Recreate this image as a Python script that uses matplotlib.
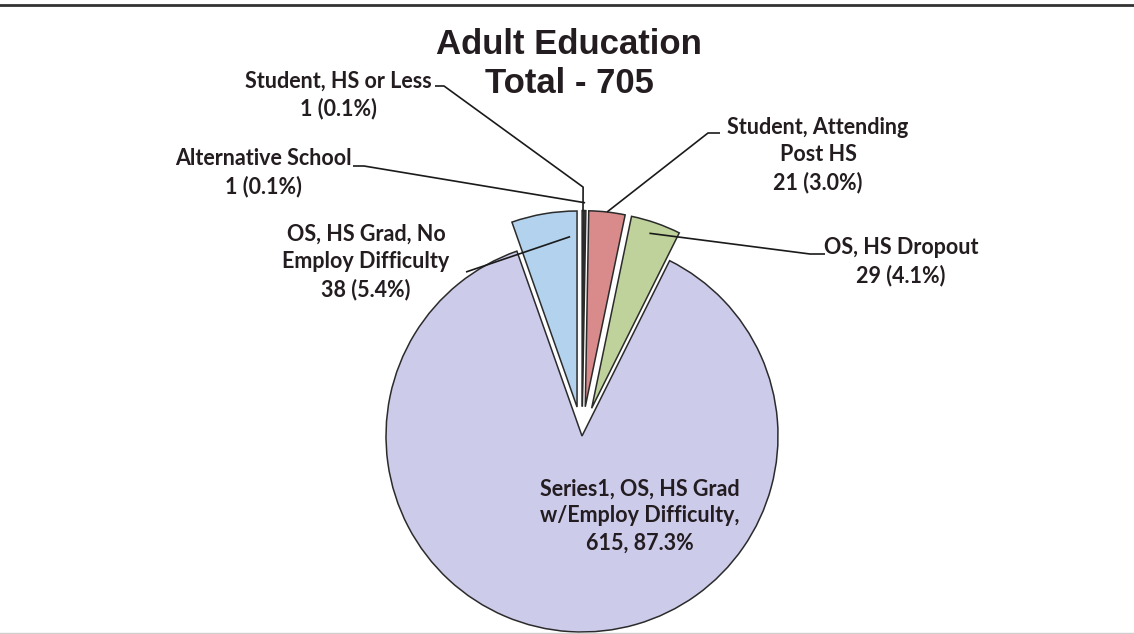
import numpy as np
import matplotlib.pyplot as plt

# data
categories = ['Student, HS or Less', 'Alternative School', 'Student, Attending\nPost HS',
              'OS, HS Dropout', 'Series1, OS, HS Grad\nw/Employ Difficulty,',
              'OS, HS Grad, No\nEmploy Difficulty']
counts = [1, 1, 21, 29, 615, 38]
pct_labels = ['0.1%', '0.1%', '3.0%', '4.1%', '87.3%', '5.4%']
total = 705

colors = ['#6e6e6e', '#6e6e6e', '#d98b8b', '#bfd29b', '#cccbea', '#b3d2ee']
explode = [0.15, 0.15, 0.15, 0.15, 0.0, 0.15]

W, H = 1134, 634
fig = plt.figure(figsize=(W / 100, H / 100), dpi=100)
ax = fig.add_axes([0, 0, 1, 1])

R = 196
cx, cy = 582, H - 436
# matplotlib explode is in data units, so scale by the radius
wedges, _ = ax.pie(counts, colors=colors, explode=[e * R for e in explode], startangle=90,
                   counterclock=False, radius=R, center=(cx, cy), frame=True,
                   wedgeprops=dict(edgecolor='#2b2b2b', linewidth=1.1))
ax.set_xlim(0, W)
ax.set_ylim(0, H)
ax.set_aspect('equal')
ax.axis('off')

txt_color = '#231c20'
font = dict(family=['Lato', 'DejaVu Sans'], fontweight='bold', fontsize=15.5,
            color=txt_color, ha='center', va='center', linespacing=1.36)

def label_text(i):
    if i == 4:
        return f'{categories[i]}\n{counts[i]}, {pct_labels[i]}'
    return f'{categories[i]}\n{counts[i]} ({pct_labels[i]})'

# label centre (pixels from top-left), leader start, wedge anchor (frac of angle, frac of radius)
label_pos = [(338, 95), (263, 173), (818, 155), (901, 262), (640, 516), (366, 262)]
leader_start = [[(435, 86), (444, 86)], [(353, 166), (364, 166)], [(720, 133), (708, 133)],
                [(825, 254), (810, 254)], None, [(466, 272)]]
anchor = [(0.5, 1.12), (0.5, 1.04), (0.5, 1.0), (0.56, 0.94), None, (0.12, 0.87)]

def wedge_point(w, frac, rf):
    th = np.deg2rad(w.theta1 + frac * (w.theta2 - w.theta1))
    x0, y0 = w.center
    return x0 + w.r * rf * np.cos(th), y0 + w.r * rf * np.sin(th)

for i, w in enumerate(wedges):
    lx, ly = label_pos[i]
    ax.text(lx, H - ly, label_text(i), **font)
    if leader_start[i] is None:
        continue
    pts = [(x, H - y) for x, y in leader_start[i]]
    pts.append(wedge_point(w, *anchor[i]))
    if i == 0:
        pts.append(wedge_point(w, 0.5, 1.0))
    xs, ys = zip(*pts)
    ax.plot(xs, ys, color='#1a1a1a', linewidth=1.2, solid_capstyle='butt')

ax.text(569, H - 64, 'Adult Education\nTotal - 705', family=['Liberation Sans', 'DejaVu Sans'],
        fontweight='bold', fontsize=25, color=txt_color, ha='center', va='center',
        linespacing=1.25)

# page rule lines of the scan
ax.plot([0, W], [H - 5, H - 5], color='#333333', linewidth=2)
ax.plot([0, W], [H - 633, H - 633], color='#cfcfcf', linewidth=1)

fig.savefig('out.png', dpi=100, facecolor='white')
